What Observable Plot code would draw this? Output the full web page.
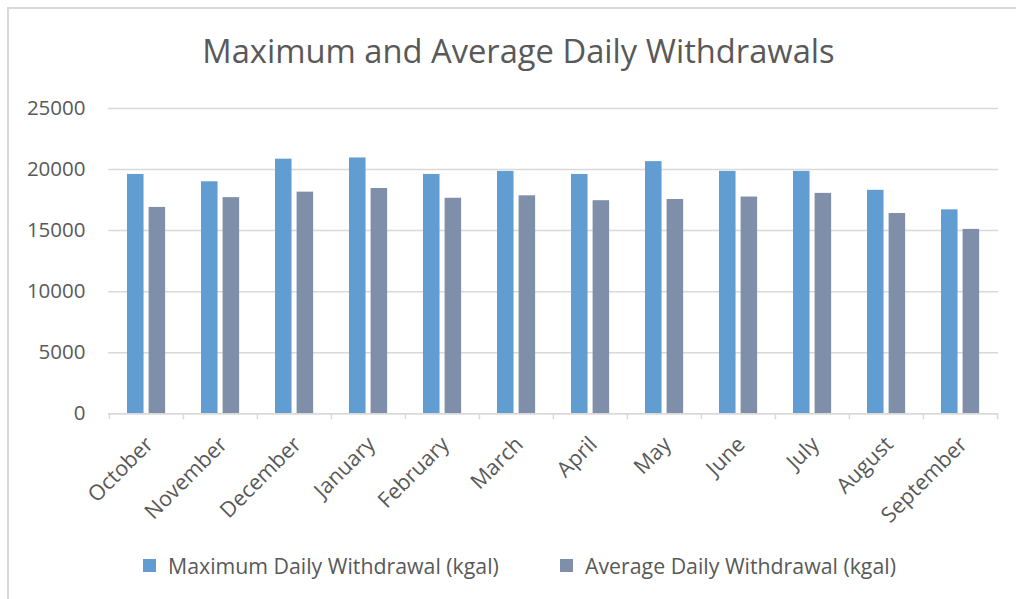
<!DOCTYPE html>
<html>
<head>
<meta charset="utf-8">
<script src="https://cdn.jsdelivr.net/npm/d3@7"></script>
<script src="https://cdn.jsdelivr.net/npm/@observablehq/plot@0.6"></script>
<style>
  html, body { margin: 0; padding: 0; background: #fff; overflow: hidden; }
  body { position: relative; width: 1016px; height: 599px; font-family: "Open Sans", sans-serif; color: #595959; }
  #frame { position: absolute; left: 7px; top: 7px; width: 1009px; height: 592px; border-top: 2px solid #d9d9d9; border-left: 2px solid #d9d9d9; box-sizing: border-box; }
  #cover { position: absolute; left: 999px; top: 10px; width: 17px; height: 589px; background: #fff; z-index: 10; }
  #title { position: absolute; left: 0; width: 1016px; padding-left: 21px; box-sizing: border-box; top: 35px; text-align: center; font-size: 32.7px; line-height: 1; color: #595959; white-space: nowrap; }
  #chart { position: absolute; left: 0; top: 80px; width: 1016px; height: 470px; overflow: hidden; }
  .leg { position: absolute; top: 553px; height: 24px; display: flex; align-items: center; font-size: 21.3px; color: #595959; white-space: nowrap; }
  .sw { width: 13px; height: 13px; margin-right: 12px; }
</style>
</head>
<body>
<div id="frame"></div>
<div id="title">Maximum and Average Daily Withdrawals</div>
<div id="chart"></div>
<div class="leg" style="left:143px"><span class="sw" style="background:#629dd1"></span><span>Maximum Daily Withdrawal (kgal)</span></div>
<div class="leg" style="left:560px"><span class="sw" style="background:#7f8fa9"></span><span>Average Daily Withdrawal (kgal)</span></div>
<div id="cover"></div>
<script>
const months = ["October","November","December","January","February","March","April","May","June","July","August","September"];
const maxDaily = [19600, 19000, 20850, 20950, 19600, 19850, 19600, 20650, 19850, 19850, 18300, 16700];
const avgDaily = [16900, 17700, 18150, 18450, 17650, 17850, 17450, 17550, 17750, 18050, 16400, 15100];
const yTicks = [0, 5000, 10000, 15000, 20000, 25000];

const rows = months.map((m, i) => ({month: m, max: maxDaily[i], avg: avgDaily[i]}));

const W = 1016, H = 470, mL = 108, mR = 18, mT = 28, mB = 136.7;
const bw = (W - mL - mR) / months.length;

const plot = Plot.plot({
  width: W, height: H,
  marginLeft: mL, marginRight: mR, marginTop: mT, marginBottom: mB,
  style: {fontFamily: "'Open Sans', sans-serif", color: "#595959", background: "transparent"},
  x: {domain: months, padding: 0, type: "band"},
  y: {domain: [0, 25000]},
  marks: [
    Plot.gridY(yTicks, {stroke: "#d9d9d9", strokeOpacity: 1, strokeWidth: 1.5}),
    Plot.barY(rows, {x: "month", y: "max", fill: "#629dd1", insetLeft: 18, insetRight: bw - 34.7}),
    Plot.barY(rows, {x: "month", y: "avg", fill: "#7f8fa9", insetLeft: 39.6, insetRight: bw - 56.3}),
    Plot.ruleY([0], {stroke: "#d9d9d9", strokeWidth: 1.5}),
    Plot.ruleX(months, {x: d => d, y1: 0, y2: 0, insetBottom: -6, dx: -bw / 2, stroke: "#d9d9d9", strokeWidth: 1.5}),
    Plot.ruleX(months.slice(-1), {x: d => d, y1: 0, y2: 0, insetBottom: -6, dx: bw / 2, stroke: "#d9d9d9", strokeWidth: 1.5}),
    Plot.axisY(yTicks, {tickSize: 0, tickPadding: 23, fontSize: 20.5, label: null, fill: "#595959", tickFormat: d => String(d)}),
    Plot.axisX({tickSize: 0, tickRotate: -45, tickPadding: 0, dx: 3, dy: 27, fontSize: 21.5, label: null, fill: "#595959"})
  ]
});
document.getElementById("chart").appendChild(plot);
</script>
</body>
</html>
